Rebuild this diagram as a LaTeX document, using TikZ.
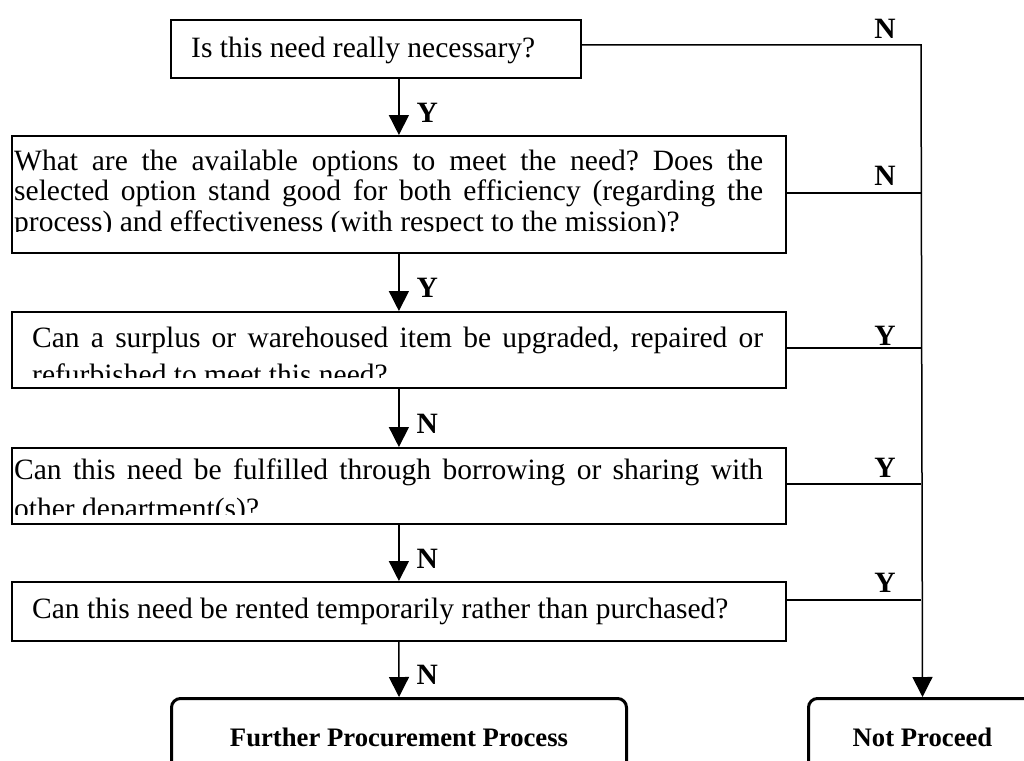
\documentclass[tikz,border=0pt]{standalone}
\usepackage{fontspec}
\setmainfont{Liberation Serif}
\usetikzlibrary{arrows.meta, positioning, calc}
\newcommand{\boxfont}{\fontsize{29.5}{30.5}\selectfont}
\newcommand{\firstline}{\rule{0pt}{22pt}}
\frenchspacing

\begin{document}
\begin{tikzpicture}[x=1pt, y=-1pt, >={Triangle[width=20pt,length=20pt]},
    qbox/.style={draw, line width=1.8pt, inner sep=0pt, anchor=north west},
    qtext/.style={anchor=north west, inner sep=0pt, font=\boxfont},
    endbox/.style={draw, line width=3pt, rounded corners=9pt, anchor=north west, minimum height=78pt, font=\fontsize{26.7}{30}\selectfont\bfseries},
    lbl/.style={font=\boxfont\bfseries, inner sep=0pt},
    link/.style={line width=1.5pt}]
    \useasboundingbox (0,0) rectangle (1024,760);
    % question boxes
    \node[qbox, minimum width=410pt, minimum height=58pt] (q1) at (170,19) {};
    \node[qbox, minimum width=774pt, minimum height=117pt] (q2) at (11,135) {};
    \node[qbox, minimum width=774pt, minimum height=76pt] (q3) at (11,311) {};
    \node[qbox, minimum width=774pt, minimum height=76pt] (q4) at (11,447) {};
    \node[qbox, minimum width=774pt, minimum height=59pt] (q5) at (11,581) {};
    \node[endbox, minimum width=455pt] (further) at (170,697) {Further Procurement Process};
    \node[endbox, minimum width=228pt] (stop) at (807,697) {Not Proceed};
    % texts, cut off at the bottom as in the original
    \node[qtext, anchor=base west] (t1) at (191,57) {Is this need really necessary?};
    \begin{scope}
        \clip (q2.north west) rectangle (785,231);
        \node[qtext, text width=749pt, align=justify] (t2) at (14,148) {\firstline What are the available options to meet the need? Does the\linebreak selected option stand good for both efficiency (regarding the\linebreak process) and effectiveness (with respect to the mission)?};
    \end{scope}
    \begin{scope}
        \clip (q3.north west) rectangle (785,377);
        \node[qtext, font=\fontsize{29.5}{37}\selectfont, text width=731pt, align=justify] (t3) at (32,325) {\firstline Can a surplus or warehoused item be upgraded, repaired or\linebreak refurbished to meet this need?};
    \end{scope}
    \begin{scope}
        \clip (q4.north west) rectangle (785,514);
        \node[qtext, font=\fontsize{29.5}{39}\selectfont, text width=749pt, align=justify] (t4) at (14,457) {\firstline Can this need be fulfilled through borrowing or sharing with\linebreak other department(s)?};
    \end{scope}
    \node[qtext, anchor=base west] (t5) at (32,618) {Can this need be rented temporarily rather than purchased?};
    % main line
    \draw[link, ->] (q2.north |- q1.south) -- (q2.north) node[lbl, pos=0.6, right=17pt] {Y};
    \draw[link, ->] (q2.south) -- (q3.north) node[lbl, pos=0.6, right=17pt] {Y};
    \draw[link, ->] (q3.south) -- (q4.north) node[lbl, pos=0.6, right=17pt] {N};
    \draw[link, ->] (q4.south) -- (q5.north) node[lbl, pos=0.6, right=17pt] {N};
    \draw[link, ->] (q5.south) -- (further.north) node[lbl, pos=0.6, right=17pt] {N};
    % side line
    \coordinate (r1) at (921,45);
    \coordinate (r2) at (921,193);
    \coordinate (r3) at (921,348);
    \coordinate (r4) at (921,484);
    \coordinate (r5) at (921,600);
    \draw[link, ->] (q1.east |- r1) -- (r1) -- (stop.north);
    \draw[link] (q2.east |- r2) -- (r2);
    \draw[link] (q3.east |- r3) -- (r3);
    \draw[link] (q4.east |- r4) -- (r4);
    \draw[link] (q5.east |- r5) -- (r5);
    \node[lbl, anchor=base] (n1) at (885,38) {N};
    \node[lbl, anchor=base] (n2) at (885,185) {N};
    \node[lbl, anchor=base] (y3) at (885,345) {Y};
    \node[lbl, anchor=base] (y4) at (885,477) {Y};
    \node[lbl, anchor=base] (y5) at (885,592) {Y};
\end{tikzpicture}
\end{document}
